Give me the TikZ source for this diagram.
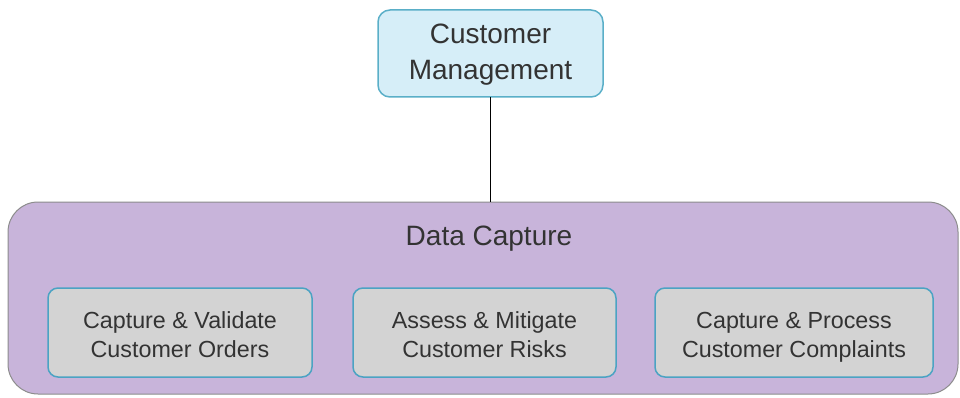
\documentclass[tikz,border=0pt]{standalone}
\usepackage{fontspec}
\setmainfont{Liberation Sans}
\definecolor{topfill}{HTML}{D6EEF8}
\definecolor{topdraw}{HTML}{5AAFC8}
\definecolor{bigfill}{HTML}{C8B4DA}
\definecolor{bigdraw}{HTML}{8C8C8C}
\definecolor{subfill}{HTML}{D3D3D3}
\definecolor{subdraw}{HTML}{4BA3C3}
\definecolor{txt}{HTML}{333333}
\tikzset{
  x=1pt, y=1pt,
  topbox/.style={draw=topdraw, fill=topfill, line width=1.5pt, rounded corners=12pt},
  bigbox/.style={draw=bigdraw, fill=bigfill, line width=1pt, rounded corners=30pt},
  subbox/.style={draw=subdraw, fill=subfill, line width=1.5pt, rounded corners=10pt},
  toptext/.style={text=txt, font=\fontsize{28}{36}\selectfont, align=center, inner sep=0pt, anchor=base},
  subtext/.style={text=txt, font=\fontsize{23.3}{29}\selectfont, align=center, inner sep=0pt, anchor=base},
  link/.style={draw=black, line width=1pt}
}
\begin{document}
\begin{tikzpicture}
\useasboundingbox (0,0) rectangle (960,-398);
\draw[bigbox] (8,-202) rectangle (958,-394);
\node[toptext] (big) at (489,-245) {Data Capture};
\coordinate (bigtop) at (490.5,-202);
\draw[topbox] (378,-10) rectangle (603,-97);
\node[toptext] (cm) at (490.5,-80) {Customer\\Management};
\coordinate (cmbot) at (490.5,-97);
\draw[link] (cmbot) -- (bigtop);
\draw[subbox] (48,-288) rectangle (312,-377);
\node[subtext] (s1) at (180,-357) {Capture \& Validate\\Customer Orders};
\draw[subbox] (353,-288) rectangle (616,-377);
\node[subtext] (s2) at (484.5,-357) {Assess \& Mitigate\\Customer Risks};
\draw[subbox] (655,-288) rectangle (933,-377);
\node[subtext] (s3) at (794,-357) {Capture \& Process\\Customer Complaints};
\end{tikzpicture}
\end{document}
